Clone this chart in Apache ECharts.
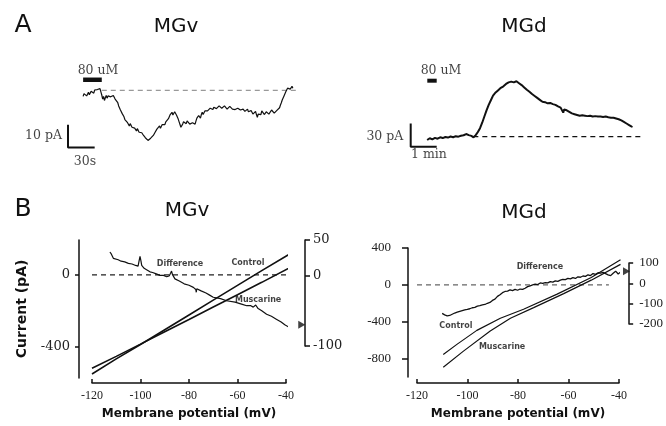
<!DOCTYPE html>
<html>
<head>
<meta charset="utf-8">
<script src="https://cdn.jsdelivr.net/npm/echarts@6/dist/echarts.min.js"></script>
<style>
html, body { margin: 0; padding: 0; background: #fff; }
#container { width: 666px; height: 426px; }
</style>
</head>
<body>
<div id="container"></div>
<script>
var dom = document.getElementById('container');
var myChart = echarts.init(dom, null, { renderer: 'canvas', useDirtyRect: false });

// ---- panel A, MGv trace: [time (s), current (pA)] ----
var mgvTrace = [
  [17,-2.6],[18,-1.4],[19,-2.2],[20,-1.2],[21,-2.4],[22,-1.6],[23,-0.8],[24,-1.9],[25,-1.2],[26,-0.4],[27,-1.0],[28,-0.2],[29,-1.2],[30,0.2],[31,0.6],[32,-0.4],[33,0.4],[34,1.0],[35,0.2],
  [36,0.8],[37,-0.6],[38,-2.0],[39,-3.8],[40,-2.6],[41,-4.4],[42,-3.2],[43,-2.2],[44,-3.4],[45,-2.4],[46,-3.2],[47,-1.8],[48,-2.8],[49,-2.0],[50,-3.2],[51,-2.2],[52,-3.0],[53,-3.8],[54,-3.2],[55,-4.6],
  [56,-5.4],[57,-6.8],[58,-7.2],[59,-8.6],[60,-9.0],[61,-10.2],[62,-10.6],[63,-11.6],[64,-12.8],[65,-13.4],[66,-12.8],[67,-14.2],[68,-14.8],[69,-15.6],[70,-14.6],[71,-15.4],[72,-16.2],[73,-16.8],[74,-15.8],[75,-16.6],
  [76,-17.4],[77,-17.8],[78,-16.8],[79,-17.6],[80,-18.4],[81,-18.8],[82,-17.8],[83,-18.6],[84,-19.4],[85,-19.8],[86,-19.0],[87,-20.8],[88,-20.2],[89,-21.4],[90,-22.0],[91,-22.8],[92,-21.6],[93,-21.0],[94,-21.8],[95,-20.4],
  [96,-19.8],[97,-19.2],[98,-18.4],[99,-18.0],[100,-17.0],[101,-17.6],[102,-16.4],[103,-15.6],[104,-16.6],[105,-16.2],[106,-15.0],[107,-14.4],[108,-15.4],[109,-15.0],[110,-13.8],[111,-14.4],[112,-13.2],[113,-12.4],[114,-11.6],[115,-10.6],
  [116,-10.0],[117,-9.6],[118,-10.8],[119,-10.2],[120,-9.4],[121,-10.0],[122,-10.8],[123,-11.4],[124,-12.6],[125,-13.8],[126,-15.0],[127,-16.2],[128,-15.4],[129,-14.8],[130,-13.8],[131,-13.0],[132,-14.2],[133,-14.6],[134,-13.4],[135,-12.6],
  [136,-13.6],[137,-14.8],[138,-14.0],[139,-15.4],[140,-14.2],[141,-13.6],[142,-14.6],[143,-14.8],[144,-13.4],[145,-12.2],[146,-12.8],[147,-11.0],[148,-11.8],[149,-12.2],[150,-10.6],[151,-9.6],[152,-10.6],[153,-10.2],[154,-9.0],[155,-8.4],
  [156,-9.4],[157,-9.0],[158,-8.2],[160,-7.8],[161,-8.6],[163,-8.4],[164,-7.4],[166,-7.2],[167,-8.0],[169,-7.6],[170,-6.8],[172,-7.2],[173,-7.8],[175,-7.4],[176,-6.8],[178,-7.4],[179,-8.2],[181,-7.8],[182,-7.0],[184,-7.6],
  [185,-8.2],[187,-7.6],[188,-8.4],[190,-8.6],[191,-7.8],[193,-7.6],[194,-8.6],[196,-9.0],[197,-8.2],[199,-9.2],[200,-8.6],[202,-8.2],[203,-9.4],[205,-9.8],[206,-8.8],[208,-10.4],[209,-9.6],[211,-9.2],[212,-10.6],[213,-11.8],
  [214,-10.4],[215,-9.8],[217,-10.6],[218,-9.0],[220,-9.8],[221,-10.6],[223,-9.4],[224,-9.8],[226,-10.4],[227,-9.8],[229,-8.6],[230,-9.2],[232,-10.0],[233,-9.4],[235,-8.8],[236,-9.4],[237,-8.4],[238,-7.6],[239,-6.4],[240,-5.4],
  [241,-4.2],[242,-3.6],[243,-2.4],[244,-1.6],[245,-0.6],[246,0.2],[247,1.0],[248,0.4],[249,1.4],[250,0.6],[251,1.2],[252,1.8],[253,1.0],[254,1.6]
];
var mgvBaseline = [[38,0],[258,0]];
var mgvDrugBar = [[17,4.7],[38,4.7]];
var mgvScaleBar = [[0,-15.1],[0,-25.1],[30,-25.1]];   // 10 pA / 30 s

// ---- panel A, MGd trace: [time (s), current (pA)] ----
var mgdTrace = [
  [38,-4.3],[41,-2.6],[44,-2.0],[47,-3.6],[50,-3.4],[53,-1.8],[56,-1.6],[59,-2.8],[62,-2.6],[65,-1.0],[68,-0.8],[71,-2.0],[74,-1.8],[77,-0.2],[80,-0.4],[83,-1.6],[86,-1.2],[89,0.4],[92,0.2],
  [95,-0.6],[98,-0.8],[101,0.8],[104,0.6],[107,-0.2],[110,0.0],[113,1.6],[116,1.2],[119,0.8],[122,1.8],[125,3.0],[128,3.4],[131,2.4],[134,2.0],[137,1.4],[140,1.0],[142,0.0],[145,-0.8],[147,0.4],[150,2.0],
  [155,6],[160,11],[165,18],[170,26],[175,34],[180,41],[185,47],[190,53],[193,55],[196,57],[199,58.5],[202,60],[205,62],[208,63],[211,63.8],[214,65],[217,66.6],[220,68],[223,68.8],[226,70],
  [229,70.4],[232,71],[235,71.6],[238,70],[241,71],[244,71.5],[247,70.4],[250,69],[253,67.6],[256,66.5],[259,65],[262,63.5],[265,62.4],[268,60.5],[271,59.6],[274,58],[277,56.8],[280,55],[283,54],[286,52.5],
  [289,51.6],[292,50],[295,48.8],[298,47.5],[301,46.4],[304,45],[307,45.6],[310,44.5],[313,43.4],[316,43],[319,44],[322,43.5],[325,42.4],[328,42],[331,41.6],[334,41],[337,40.2],[340,39],[343,38.4],[346,37.5],
  [349,36.4],[350,35.5],[352,31],[354,35],[357,34.6],[360,34],[363,33],[366,32],[369,31],[372,30],[375,29.6],[378,29],[381,28.2],[384,28],[387,27.4],[390,27],[393,27.8],[396,27.5],[399,26.8],[402,27],
  [405,27.6],[408,26.5],[411,27.2],[414,27],[417,26.2],[420,26],[423,26.8],[426,26.5],[429,25.8],[432,26],[435,26.6],[438,26],[441,25.2],[444,25.5],[447,26.2],[450,26],[453,25.2],[456,25],[459,25.4],[462,24.5],
  [465,24.8],[468,24.5],[471,23.6],[474,23.5],[477,23.0],[480,22.5],[483,21.8],[486,21],[489,20.2],[492,19],[495,18.4],[498,17],[501,16.2],[504,15],[507,14.2],[510,13],[512,12.6]
];
var mgdBaseline = [[144.5,0],[533,0]];
var mgdDrugBar = [[38.3,72.2],[60,72.2]];
var mgdScaleBar = [[0,17.1],[0,-12.9],[60,-12.9]];   // 30 pA / 1 min

// ---- panel B, MGv I-V: [membrane potential (mV), current (pA)] ----
var mgvControl = [[-120,-550],[-110,-466],[-100,-386],[-90,-304],[-80,-222],[-70,-140],[-60,-58],[-50,24],[-37.5,124]];
var mgvMuscarine = [[-120,-518],[-110,-452],[-100,-384],[-90,-315],[-80,-247],[-70,-178],[-60,-110],[-50,-41],[-37,50]];
var mgvDiff = [
  [-112.6,33],[-112,30],[-111.2,24],[-110.4,26],[-109.2,22],[-108,20],[-106.5,19],[-105,17],[-103.5,16],[-102,14],
  [-101,13],[-100.6,20],[-100.2,27],[-99.8,20],[-99.5,14],[-98.5,10],[-97.5,8],[-96.1,5],[-95,4],[-93.5,2],
  [-92,0],[-90.5,0],[-89.2,-2],[-88.2,-1],[-87.6,3],[-87.2,6],[-86.8,1],[-85.8,-5],[-84,-8],[-82,-12],
  [-80,-14],[-78.2,-17],[-77.2,-20],[-77,-24],[-76.8,-19],[-75,-22],[-73,-25],[-71.5,-28],[-70,-31],[-67,-33],
  [-64.5,-36],[-61,-38],[-58,-41],[-56.2,-43],[-54.5,-43],[-53.5,-45],[-52.5,-42],[-51.5,-47],[-50,-50],[-48,-55],
  [-46,-58],[-44,-62],[-42,-66],[-40.5,-70],[-39.7,-71],[-38.5,-74],[-37.5,-78],[-37,-79],[-36.4,-76],[-35.8,-72],[-35.6,-71]
];
var mgvZero = [[-120,0],[-37,0]];
var mgvArrow = [[-33.5,-70]];

// ---- panel B, MGd I-V ----
var mgdControl = [[-109.6,-756],[-104.2,-646],[-96.3,-494],[-87,-363],[-77.8,-265],[-64.5,-101],[-51,80],[-39.4,272]];
var mgdMuscarine = [[-109.6,-894],[-101.6,-719],[-91,-501],[-83,-363],[-73.8,-247],[-61.9,-95],[-51,51],[-39.4,222]];
var mgdDiff = [
  [-110,-148],[-109,-155],[-108,-160],[-107,-158],[-106,-152],[-105,-146],[-104,-142],[-103,-138],[-102,-134],[-101,-130],
  [-100,-128],[-99,-125],[-98,-120],[-97,-118],[-96,-112],[-95,-110],[-94,-106],[-93,-104],[-92,-98],[-91,-94],
  [-90,-84],[-89,-78],[-88,-64],[-87,-56],[-86,-46],[-85,-40],[-84,-38],[-83,-32],[-82,-36],[-81,-30],
  [-80,-34],[-79,-28],[-78,-30],[-77,-24],[-76,-16],[-75,-12],[-74,-8],[-73,-4],[-72,-6],[-71,2],
  [-70,0],[-69,4],[-68,2],[-67,8],[-66,6],[-65,12],[-64,10],[-63,16],[-62,20],[-61,18],
  [-60,24],[-59,22],[-58,28],[-57,24],[-56,32],[-55,30],[-54,36],[-53,34],[-52,42],[-51,38],
  [-50,48],[-49,44],[-48,52],[-47,50],[-46,54],[-45,48],[-44,42],[-43,38],[-42,50],[-41,60],
  [-40,46],[-39,56],[-38,50]
];
var mgdZero = [[-120,0],[-44,0]];
var mgdArrow = [[-36.7,60]];

// tick values
var mgvLeftTicks = [-400, 0];
var mgvRightTicks = [-100, 0, 50];
var mgdLeftTicks = [-800, -400, 0, 400];
var mgdRightTicks = [-200, -100, 0, 100];

var SERIF = '"Liberation Serif", "Times New Roman", serif';
var WSERIF = '"DejaVu Serif", serif';
var SANS = '"DejaVu Sans", sans-serif';

function line(idx, data, width, color, dash) {
    return {
        type: 'line', xAxisIndex: idx, yAxisIndex: idx,
        data: data, showSymbol: false, clip: false, silent: true,
        lineStyle: { width: width, color: color, type: dash || 'solid' }
    };
}

function note(idx, x, y, text, font, size, weight, pos) {
    return {
        type: 'scatter', xAxisIndex: idx, yAxisIndex: idx,
        symbolSize: 0, clip: false, silent: true,
        data: [[x, y]],
        label: {
            show: true, position: pos || 'inside', distance: 0,
            formatter: text, color: '#111',
            fontFamily: font, fontSize: size, fontWeight: weight || 'normal'
        }
    };
}

function arrow(idx, data) {
    return {
        type: 'scatter', xAxisIndex: idx, yAxisIndex: idx, clip: false, silent: true,
        symbol: 'path://M0,0L10,5L0,10Z', symbolSize: [7, 8],
        itemStyle: { color: '#111' }, data: data
    };
}

function hiddenAxis(idx, min, max) {
    return { gridIndex: idx, type: 'value', min: min, max: max, show: false };
}

function ivX(idx, off) {
    return {
        gridIndex: idx, type: 'value', min: -120, max: -40, interval: 20,
        position: 'bottom', offset: off,
        axisLine: { show: true, onZero: false, lineStyle: { color: '#111', width: 1.5 } },
        axisTick: { show: true, inside: true, length: 4, lineStyle: { color: '#111', width: 1.5 } },
        axisLabel: { color: '#222', fontFamily: SERIF, fontSize: 12, margin: 7 },
        splitLine: { show: false },
        name: 'Membrane potential (mV)', nameLocation: 'middle', nameGap: 25,
        nameTextStyle: { color: '#111', fontFamily: SANS, fontWeight: 'bold', fontSize: 12 }
    };
}

function ivY(idx, pos, off, min, max, ticks, font, margin, tickLen) {
    return {
        gridIndex: idx, type: 'value', min: min, max: max,
        position: pos, offset: off,
        axisLine: { show: true, onZero: false, lineStyle: { color: '#111', width: 1.5 } },
        axisTick: { show: true, length: tickLen, customValues: ticks, lineStyle: { color: '#111', width: 1.5 } },
        axisLabel: { customValues: ticks, color: '#222', fontFamily: font, fontSize: 13, margin: margin },
        splitLine: { show: false }
    };
}

var yMgvMain = ivY(2, 'left', 13, -572, 194, mgvLeftTicks, WSERIF, 9, 4);
yMgvMain.name = 'Current (pA)';
yMgvMain.nameLocation = 'middle';
yMgvMain.nameRotate = 90;
yMgvMain.nameGap = 50;
yMgvMain.nameTextStyle = { color: '#111', fontFamily: SANS, fontWeight: 'bold', fontSize: 14 };

option = {
    backgroundColor: '#fff',
    animation: false,
    grid: [
        { left: 20, top: 70, width: 288, height: 100 },     // A MGv
        { left: 358.7, top: 70, width: 286, height: 100 },  // A MGd
        { left: 92, top: 240, width: 194, height: 138 },    // B MGv I-V
        { left: 92, top: 240, width: 194, height: 106 },    // B MGv difference
        { left: 417, top: 248, width: 202, height: 129 },   // B MGd I-V
        { left: 417, top: 263, width: 202, height: 61 }     // B MGd difference
    ],
    xAxis: [
        hiddenAxis(0, -54, 270),
        hiddenAxis(1, -120, 540),
        ivX(2, 5),
        hiddenAxis(3, -120, -40),
        ivX(4, 6),
        hiddenAxis(5, -120, -40)
    ],
    yAxis: [
        hiddenAxis(0, -35, 9),
        hiddenAxis(1, -43, 86),
        yMgvMain,
        ivY(3, 'right', 19, -100, 50, mgvRightTicks, WSERIF, 8, 5),
        ivY(4, 'left', 9, -1000, 400, mgdLeftTicks, SERIF, 17, 6),
        ivY(5, 'right', 11, -200, 100, mgdRightTicks, SERIF, 10, 4)
    ],
    graphic: [
        { type: 'text', x: 23, y: 25, style: { text: 'A', font: '25px ' + SANS, textAlign: 'center', textVerticalAlign: 'middle', fill: '#111' } },
        { type: 'text', x: 176, y: 27, style: { text: 'MGv', font: '20px ' + SANS, textAlign: 'center', textVerticalAlign: 'middle', fill: '#111' } },
        { type: 'text', x: 524, y: 27, style: { text: 'MGd', font: '20px ' + SANS, textAlign: 'center', textVerticalAlign: 'middle', fill: '#111' } },
        { type: 'text', x: 23, y: 209, style: { text: 'B', font: '25px ' + SANS, textAlign: 'center', textVerticalAlign: 'middle', fill: '#111' } },
        { type: 'text', x: 187, y: 211, style: { text: 'MGv', font: '20px ' + SANS, textAlign: 'center', textVerticalAlign: 'middle', fill: '#111' } },
        { type: 'text', x: 524, y: 213, style: { text: 'MGd', font: '20px ' + SANS, textAlign: 'center', textVerticalAlign: 'middle', fill: '#111' } }
    ],
    series: [
        // A MGv
        line(0, mgvBaseline, 1.2, '#999', [5, 4]),
        line(0, mgvTrace, 1.2, '#111'),
        line(0, mgvDrugBar, 4.5, '#111'),
        line(0, mgvScaleBar, 2, '#111'),
        note(0, 33.75, 8.67, '80 uM', WSERIF, 12.5),
        note(0, -6.75, -19.9, '10 pA', WSERIF, 12.5, 'normal', 'left'),
        note(0, 19.1, -31.4, '30s', WSERIF, 12.5),
        // A MGd
        line(1, mgdBaseline, 1.2, '#111', [5, 4]),
        line(1, mgdTrace, 2, '#111'),
        line(1, mgdDrugBar, 4, '#111'),
        line(1, mgdScaleBar, 2, '#111'),
        note(1, 69.9, 85.1, '80 uM', WSERIF, 12.5),
        note(1, -17.1, 0, '30 pA', WSERIF, 12.5, 'normal', 'left'),
        note(1, 42.2, -23.6, '1 min', WSERIF, 12.5),
        // B MGv
        line(2, mgvZero, 1.2, '#222', [5, 4]),
        line(2, mgvControl, 1.6, '#111'),
        line(2, mgvMuscarine, 1.6, '#111'),
        line(3, mgvDiff, 1.2, '#111'),
        arrow(3, mgvArrow),
        note(2, -83.7, 59, 'Difference', SANS, 8, 'bold'),
        note(2, -55.7, 64.7, 'Control', SANS, 8, 'bold'),
        note(2, -51.5, -139, 'Muscarine', SANS, 8, 'bold'),
        // B MGd
        line(4, mgdZero, 1.2, '#666', [5, 4]),
        line(4, mgdControl, 1.2, '#111'),
        line(4, mgdMuscarine, 1.2, '#111'),
        line(5, mgdDiff, 1.3, '#111'),
        arrow(5, mgdArrow),
        note(4, -71.3, 197, 'Difference', SANS, 8, 'bold'),
        note(4, -104.6, -443, 'Control', SANS, 8, 'bold'),
        note(4, -86.3, -671, 'Muscarine', SANS, 8, 'bold')
    ]
};

myChart.setOption(option);
</script>
</body>
</html>
